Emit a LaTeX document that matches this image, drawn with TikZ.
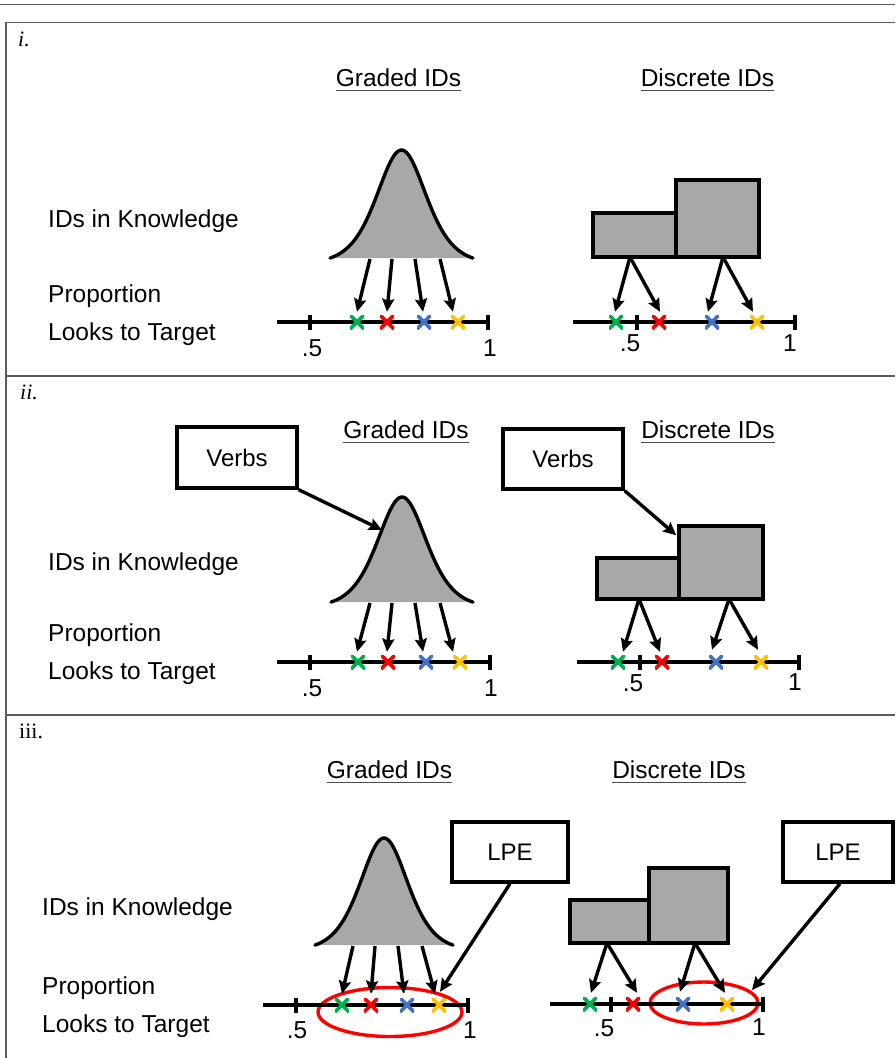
\documentclass[tikz,border=0pt]{standalone}
\usepackage{fontspec}
\setmainfont{Liberation Sans}
\newfontfamily\seriffont{Liberation Serif}
\usetikzlibrary{arrows.meta}
\definecolor{xgreen}{RGB}{0,176,80}
\definecolor{xred}{RGB}{255,0,0}
\definecolor{xblue}{RGB}{68,114,196}
\definecolor{xyellow}{RGB}{255,192,0}
\definecolor{shapegray}{RGB}{170,167,167}
\definecolor{framegray}{RGB}{90,90,90}
\newcommand\bellcurve[4]{%
  \path[fill=shapegray,draw=black,line width=3.4pt,line join=round,line cap=round]
    plot[domain=-#3:#3,samples=121,smooth,variable=\t]
    ({#1+\t},{#2-#4*(4/(exp(\t*2.15/#3)+exp(-\t*2.15/#3))^2-0.0540)/(1-0.0540)});}
\begin{document}
\begin{tikzpicture}[x=1pt,y=-1pt,
  lbl/.style={font=\fontsize{24.5}{29}\selectfont,inner sep=0,anchor=base west},
  ttl/.style={font=\fontsize{24.5}{29}\selectfont,inner sep=0,anchor=base},
  num/.style={font=\fontsize{24.5}{29}\selectfont,inner sep=0},
  sec/.style={font=\seriffont\fontsize{22}{26}\selectfont,inner sep=0,anchor=base west},
  frame/.style={draw=framegray,line width=1.6pt},
  bar/.style={draw,fill=shapegray,line width=3.4pt,inner sep=0},
  tagbox/.style={draw,fill=white,line width=3.4pt,inner sep=0,font=\fontsize{24}{29}\selectfont},
  arr/.style={line width=3.4pt,-{Stealth[length=13pt,width=12pt,inset=2pt]}},
  axis/.style={line width=3.4pt},
  ring/.style={draw=xred,line width=3.4pt},
  xm/.style={minimum width=14pt,minimum height=14pt,inner sep=0,
    path picture={\draw[line width=3.8pt,#1]
      (path picture bounding box.north west) -- (path picture bounding box.south east)
      (path picture bounding box.north east) -- (path picture bounding box.south west);}},
  uline/.style={line width=1pt,draw=black!70}
]
\useasboundingbox (0,0) rectangle (895,1058);
% frame
\draw[frame] (0,4.5) -- (895,4.5);
\draw[frame] (895,22.5) -- (6,22.5) -- (6,1058);
\draw[frame] (6,376) -- (895,376);
\draw[frame] (6,715) -- (895,715);
\node[sec] (s1) at (18,46) {\itshape i.};
\node[sec] (s2) at (20,399) {\itshape ii.};
\node[sec] (s3) at (19,738) {iii.};

% ================= Section i =================
\node[ttl] (gt1) at (398.5,86) {Graded IDs};
\node[ttl] (dt1) at (707.5,86) {Discrete IDs};
\draw[uline] ([yshift=-4pt]gt1.base west) -- ([yshift=-4pt]gt1.base east);
\draw[uline] ([yshift=-4pt]dt1.base west) -- ([yshift=-4pt]dt1.base east);
\node[lbl] (k1) at (48,227) {IDs in Knowledge};
\node[lbl] (p1) at (48,302) {Proportion};
\node[lbl] (l1) at (48,340) {Looks to Target};
% graded
\bellcurve{401.5}{258}{71.5}{108}
\draw[axis] (277,322) -- (488,322);
\draw[axis] (310,314.5) -- (310,329.5);
\draw[axis] (488,314.5) -- (488,329.5);
\node[num] (h1) at (312,348) {.5};
\node[num] (o1) at (490,348) {1};
\node[xm=xgreen] (ga1) at (357,322) {};
\node[xm=xred] (gb1) at (387,322) {};
\node[xm=xblue] (gc1) at (424,322) {};
\node[xm=xyellow] (gd1) at (458,322) {};
\coordinate (gsa1) at (370,259);
\coordinate (gsb1) at (392,259);
\coordinate (gsc1) at (415,259);
\coordinate (gsd1) at (440,259);
\draw[arr] (gsa1) -- ([yshift=3pt]ga1.north);
\draw[arr] (gsb1) -- ([yshift=3pt]gb1.north);
\draw[arr] (gsc1) -- ([yshift=3pt,xshift=-1pt]gc1.north);
\draw[arr] (gsd1) -- ([yshift=3pt,xshift=-5pt]gd1.north);
% discrete
\node[bar,minimum width=83pt,minimum height=44pt] (sb1) at (634.5,235) {};
\node[bar,minimum width=83pt,minimum height=77pt] (bb1) at (717.5,218.5) {};
\draw[axis] (573,322) -- (795,322);
\draw[axis] (637,314.5) -- (637,329.5);
\draw[axis] (795,314.5) -- (795,329.5);
\node[num] (dh1) at (630,343) {.5};
\node[num] (do1) at (790,343) {1};
\node[xm=xgreen] (da1) at (616,322) {};
\node[xm=xred] (db1) at (659,322) {};
\node[xm=xblue] (dc1) at (712,322) {};
\node[xm=xyellow] (dd1) at (757,322) {};
\coordinate (dss1) at (630,257);
\coordinate (dsb1) at (723,257);
\draw[arr] (dss1) -- ([yshift=3pt,xshift=-1pt]da1.north);
\draw[arr] (dss1) -- ([yshift=3pt,xshift=1pt]db1.north);
\draw[arr] (dsb1) -- ([yshift=3pt,xshift=-4pt]dc1.north);
\draw[arr] (dsb1) -- ([yshift=3pt,xshift=-4pt]dd1.north);

% ================= Section ii =================
\node[ttl] (gt2) at (406,438) {Graded IDs};
\node[ttl] (dt2) at (708,438) {Discrete IDs};
\draw[uline] ([yshift=-4pt]gt2.base west) -- ([yshift=-4pt]gt2.base east);
\draw[uline] ([yshift=-4pt]dt2.base west) -- ([yshift=-4pt]dt2.base east);
\node[lbl] (k2) at (48,570) {IDs in Knowledge};
\node[lbl] (p2) at (48,641) {Proportion};
\node[lbl] (l2) at (48,679) {Looks to Target};
% graded
\bellcurve{402}{602}{71}{105}
\draw[axis] (277,662) -- (490,662);
\draw[axis] (310,654.5) -- (310,669.5);
\draw[axis] (490,654.5) -- (490,669.5);
\node[num] (h2) at (312,688) {.5};
\node[num] (o2) at (491,688) {1};
\node[xm=xgreen] (ga2) at (358,662) {};
\node[xm=xred] (gb2) at (388,662) {};
\node[xm=xblue] (gc2) at (426,662) {};
\node[xm=xyellow] (gd2) at (460,662) {};
\coordinate (gsa2) at (370,603);
\coordinate (gsb2) at (392,603);
\coordinate (gsc2) at (415,603);
\coordinate (gsd2) at (440,603);
\draw[arr] (gsa2) -- ([yshift=3pt,xshift=-1pt]ga2.north);
\draw[arr] (gsb2) -- ([yshift=3pt,xshift=-1pt]gb2.north);
\draw[arr] (gsc2) -- ([yshift=3pt,xshift=-3pt]gc2.north);
\draw[arr] (gsd2) -- ([yshift=3pt,xshift=-7pt]gd2.north);
\node[tagbox,minimum width=120pt,minimum height=61pt] (vb1) at (237,457.5) {Verbs};
\coordinate (vt1) at (382,530);
\draw[arr] (vb1.south east) -- (vt1);
% discrete
\node[bar,minimum width=82pt,minimum height=41pt] (sb2) at (638,578.5) {};
\node[bar,minimum width=84pt,minimum height=73pt] (bb2) at (721,562.5) {};
\draw[axis] (577,662) -- (799,662);
\draw[axis] (640,654.5) -- (640,669.5);
\draw[axis] (799,654.5) -- (799,669.5);
\node[num] (dh2) at (633,683) {.5};
\node[num] (do2) at (795,682) {1};
\node[xm=xgreen] (da2) at (618,662) {};
\node[xm=xred] (db2) at (662,662) {};
\node[xm=xblue] (dc2) at (716,662) {};
\node[xm=xyellow] (dd2) at (761,662) {};
\coordinate (dss2) at (639,599);
\coordinate (dsb2) at (729,599);
\draw[arr] (dss2) -- ([yshift=3pt,xshift=5pt]da2.north);
\draw[arr] (dss2) -- ([yshift=3pt,xshift=-2pt]db2.north);
\draw[arr] (dsb2) -- ([yshift=5pt,xshift=-4pt]dc2.north);
\draw[arr] (dsb2) -- ([yshift=5pt,xshift=-3pt]dd2.north);
\node[tagbox,minimum width=120pt,minimum height=60pt] (vb2) at (563,459) {Verbs};
\draw[arr] (vb2.south east) -- ([xshift=-1pt,yshift=-11pt]bb2.north west);

% ================= Section iii =================
\node[ttl] (gt3) at (389.5,778) {Graded IDs};
\node[ttl] (dt3) at (679,778) {Discrete IDs};
\draw[uline] ([yshift=-4pt]gt3.base west) -- ([yshift=-4pt]gt3.base east);
\draw[uline] ([yshift=-4pt]dt3.base west) -- ([yshift=-4pt]dt3.base east);
\node[lbl] (k3) at (42,915) {IDs in Knowledge};
\node[lbl] (p3) at (42,994) {Proportion};
\node[lbl] (l3) at (42,1032) {Looks to Target};
% graded
\bellcurve{384}{945}{69}{107}
\draw[ring] (390,1012) ellipse [x radius=72, y radius=24.5];
\draw[axis] (263,1005) -- (468,1005);
\draw[axis] (296,997.5) -- (296,1012.5);
\draw[axis] (468,997.5) -- (468,1012.5);
\node[num] (h3) at (297,1030) {.5};
\node[num] (o3) at (470,1030) {1};
\node[xm=xgreen] (ga3) at (342,1005) {};
\node[xm=xred] (gb3) at (371,1005) {};
\node[xm=xblue] (gc3) at (407,1005) {};
\node[xm=xyellow] (gd3) at (439,1005) {};
\coordinate (gsa3) at (353,946);
\coordinate (gsb3) at (375,946);
\coordinate (gsc3) at (398,946);
\coordinate (gsd3) at (422,946);
\draw[arr] (gsa3) -- ([yshift=4pt]ga3.north);
\draw[arr] (gsb3) -- ([yshift=4pt]gb3.north);
\draw[arr] (gsc3) -- ([yshift=4pt,xshift=-3pt]gc3.north);
\draw[arr] (gsd3) -- ([yshift=4pt,xshift=-4pt]gd3.north);
\node[tagbox,minimum width=116pt,minimum height=60pt] (lp1) at (510,852) {LPE};
\draw[arr] (lp1.south) -- ([yshift=6pt,xshift=1pt]gd3.north);
% discrete
\node[bar,minimum width=79pt,minimum height=43pt] (sb3) at (609.5,921.5) {};
\node[bar,minimum width=79pt,minimum height=75pt] (bb3) at (688.5,905.5) {};
\draw[ring] (704,1003) ellipse [x radius=54, y radius=21];
\draw[axis] (550,1004) -- (763,1004);
\draw[axis] (611,996.5) -- (611,1011.5);
\draw[axis] (763,996.5) -- (763,1011.5);
\node[num] (dh3) at (604,1028) {.5};
\node[num] (do3) at (759,1027) {1};
\node[xm=xgreen] (da3) at (590,1004) {};
\node[xm=xred] (db3) at (633,1004) {};
\node[xm=xblue] (dc3) at (683,1004) {};
\node[xm=xyellow] (dd3) at (727,1004) {};
\coordinate (dss3) at (607,943);
\coordinate (dsb3) at (695,943);
\draw[arr] (dss3) -- ([yshift=4pt,xshift=1pt]da3.north);
\draw[arr] (dss3) -- ([yshift=4pt,xshift=4pt]db3.north);
\draw[arr] (dsb3) -- ([yshift=5pt,xshift=-3pt]dc3.north);
\draw[arr] (dsb3) -- ([yshift=4pt,xshift=-2pt]dd3.north);
\node[tagbox,minimum width=110pt,minimum height=60pt] (lp2) at (838,852) {LPE};
\coordinate (lt2) at (752,990);
\draw[arr] ([xshift=2pt]lp2.south) -- (lt2);
\end{tikzpicture}
\end{document}
